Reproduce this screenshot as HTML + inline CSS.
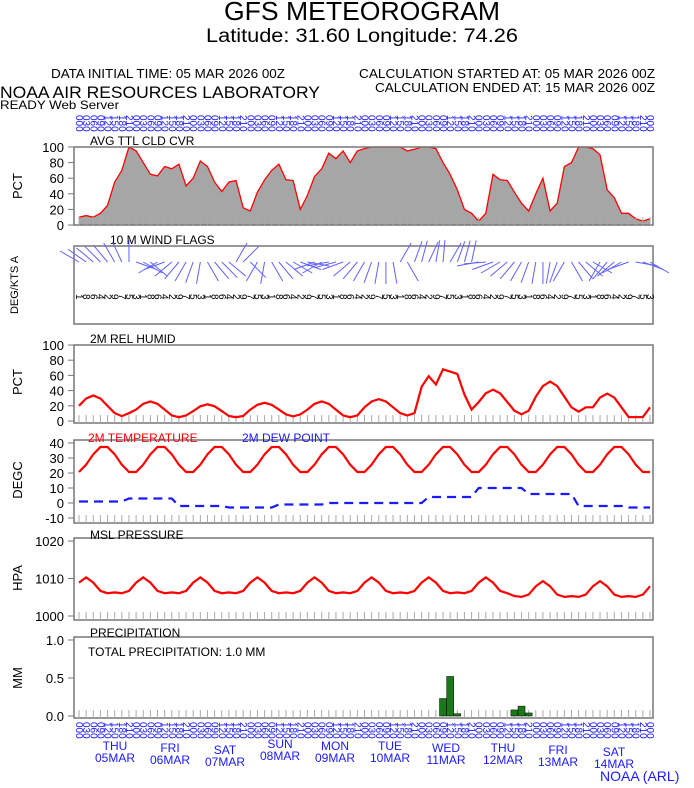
<!DOCTYPE html>
<html><head><meta charset="utf-8"><style>body{margin:0;background:#fff}svg{display:block}</style></head>
<body>
<svg id="s" width="694" height="788" xmlns="http://www.w3.org/2000/svg" font-family="Liberation Sans, sans-serif">
<text x="362" y="20" font-size="26" text-anchor="middle" textLength="276" lengthAdjust="spacingAndGlyphs">GFS METEOROGRAM</text>
<text x="362" y="42" font-size="19" text-anchor="middle" textLength="312" lengthAdjust="spacingAndGlyphs">Latitude: 31.60 Longitude:  74.26</text>
<text x="51" y="78" font-size="13" textLength="234" lengthAdjust="spacingAndGlyphs">DATA INITIAL TIME: 05 MAR 2026 00Z</text>
<text x="359" y="78" font-size="13" textLength="296" lengthAdjust="spacingAndGlyphs">CALCULATION STARTED AT: 05 MAR 2026 00Z</text>
<text x="375" y="92" font-size="13" textLength="280" lengthAdjust="spacingAndGlyphs">CALCULATION ENDED AT: 15 MAR 2026 00Z</text>
<text x="0" y="98" font-size="17" textLength="320" lengthAdjust="spacingAndGlyphs">NOAA AIR RESOURCES LABORATORY</text>
<text x="0" y="109" font-size="12" textLength="119" lengthAdjust="spacingAndGlyphs">READY Web Server</text>
<text x="600" y="781" font-size="14" fill="#1a1aff">NOAA (ARL)</text>
<g id="g"></g>
</svg>
<script>
const NS="http://www.w3.org/2000/svg",g=document.getElementById('g');
function el(t,a,txt){const e=document.createElementNS(NS,t);for(const k in a)e.setAttribute(k,a[k]);if(txt!==undefined)e.textContent=txt;g.appendChild(e);return e;}
const L=74,R=653,N=81,X0=79,X1=650;const xs=i=>X0+(X1-X0)*i/(N-1);
function interp(a){const o=[];for(let i=0;i<N;i++){const t=i*(a.length-1)/(N-1),k=Math.floor(t),f=t-k;o.push(a[k]*(1-f)+(a[Math.min(k+1,a.length-1)])*f);}return o;}
function box(top,bot){el('rect',{x:L,y:top,width:R-L,height:bot-top,fill:'none',stroke:'#777','stroke-width':1.5});}
function ticks(bot){for(let i=0;i<N;i++)el('line',{x1:xs(i),x2:xs(i),y1:bot-8,y2:bot,stroke:'#aaa','stroke-width':1});}
function ylab(t,y,x,fs){el('text',{x:x||22,y:y,'font-size':fs||13,'text-anchor':'middle',transform:`rotate(-90 ${x||22} ${y})`},t);}
function ytick(v,y){el('text',{x:64,y:y+5,'font-size':13,'text-anchor':'end'},v);el('line',{x1:L-6,x2:L,y1:y,y2:y,stroke:'#777'});}
const hrs=['00','03','06','09','12','15','18','21'];
function hourRow(y){for(let i=0;i<N;i++){const x=xs(i)-3;el('text',{x:x,y:y,'font-size':10,fill:'#1a1aff',transform:`rotate(90 ${x} ${y})`,'text-anchor':'start'},hrs[i%8]+'0');}}
hourRow(115);hourRow(722);
let cl=[10,12,10,15,25,55,70,100,95,80,65,63,75,72,78,50,60,82,75,55,43,55,57,22,18,42,58,70,78,58,57,20,38,62,72,92,85,95,80,95,98,100,100,100,100,100,95,97,100,100,98,80,65,45,20,15,5,15,65,58,57,42,28,18,40,60,18,28,75,80,100,100,98,90,45,35,15,15,8,5,8];
cl=interp(cl);
let t1=147,b1=225;const yc=v=>b1-(b1-t1)*v/100;
let d='M'+xs(0)+' '+b1;cl.forEach((v,i)=>d+=' L'+xs(i).toFixed(1)+' '+yc(v).toFixed(1));
el('path',{d:d+' L'+xs(N-1)+' '+b1+'Z',fill:'#a6a6a6'});
el('path',{d:'M'+cl.map((v,i)=>xs(i).toFixed(1)+' '+yc(v).toFixed(1)).join(' L'),fill:'none',stroke:'#f00','stroke-width':1.3});
box(t1,b1);ticks(b1);[0,20,40,60,80,100].forEach(v=>ytick(v,yc(v)));ylab('PCT',186);
el('text',{x:90,y:145,'font-size':12},'AVG TTL CLD CVR');
box(246,324);el('text',{x:110,y:244,'font-size':12},'10 M  WIND FLAGS');ylab('DEG/KTS  A',285,18,11);
const ang=[150,145,140,135,130,120,115,90,-20,-30,-40,-150,-160,-140,-130,-120,-110,-100,-60,-50,-45,-40,60,45,-45,-120,-100,-60,-50,-40,-30,-20,-10,-160,-150,-170,-165,-160,-140,-130,-120,-110,-100,-90,-80,60,-60,70,75,65,80,85,60,70,75,78,-170,-175,-160,-150,-140,-130,-120,-110,-100,-90,-100,-110,-120,-60,-50,-40,-30,-120,-130,-140,-150,-160,-10,-20,-30];
for(let i=0;i<N;i++){const x=xs(i),a=ang[i%ang.length]*Math.PI/180;
el('line',{x1:x,y1:262,x2:x+Math.cos(a)*22,y2:262-Math.sin(a)*22,stroke:'#6060ff','stroke-width':1});
el('text',{x:x-3,y:294,'font-size':10,transform:`rotate(90 ${x-3} 294)`},(i*7%9+1));}
let t3=345,b3=421;const yr=v=>b3-(b3-t3)*v/100;box(t3,b3+2);ticks(b3+2);[0,20,40,60,80,100].forEach(v=>ytick(v,yr(v)));ylab('PCT',382);
el('text',{x:90,y:343,'font-size':12},'2M REL HUMID');
let rh=[];for(let i=0;i<N;i++){let amp=[15,12,10,10,12,12,22,18,22,20][Math.floor(i/8)]||12;let base=[20,15,13,15,15,18,45,25,32,18][Math.floor(i/8)]||18;rh.push(base+amp*Math.cos((i-2)*Math.PI/4)*0.9);}
rh[51]=68;rh[52]=65;rh[53]=62;rh[50]=48;rh[54]=35;rh[55]=15;
el('path',{d:'M'+rh.map((v,i)=>xs(i).toFixed(1)+' '+yr(Math.max(5,v)).toFixed(1)).join(' L'),fill:'none',stroke:'#f00','stroke-width':2.2});
let t4=443,b4=518;const yt=v=>b4-(b4-t4)*(v+10)/50;box(440,523);ticks(523);[40,30,20,10,0,-10].forEach(v=>ytick(v,yt(v)));ylab('DEGC',480);
el('text',{x:88,y:442,'font-size':12,fill:'#f00'},'2M TEMPERATURE');el('text',{x:242,y:442,'font-size':12,fill:'#1a1aff'},'2M   DEW POINT');
let tp=[],dp=[];for(let i=0;i<N;i++){let c=Math.cos((i-3.5)*Math.PI/4);tp.push(29+9*c);dp.push([1,3,-2,-3,-1,0,0,4,10,6,-2,-3][Math.floor(i/7)]||0);}
el('path',{d:'M'+tp.map((v,i)=>xs(i).toFixed(1)+' '+yt(v).toFixed(1)).join(' L'),fill:'none',stroke:'#f00','stroke-width':2.2});
el('path',{d:'M'+interp(dp).map((v,i)=>xs(i).toFixed(1)+' '+yt(v).toFixed(1)).join(' L'),fill:'none',stroke:'#1a1aff','stroke-width':2.2,'stroke-dasharray':'9 6'});
let t5=541,b5=616;const yp=v=>b5-(b5-t5)*(v-1000)/20;box(538,620);ticks(620);[1020,1010,1000].forEach(v=>ytick(v,yp(v)));ylab('HPA',578);
el('text',{x:90,y:539,'font-size':12},'MSL PRESSURE');
let pr=[];for(let i=0;i<N;i++)pr.push(1007.5+2*Math.cos((i-1)*Math.PI/4)+0.8*Math.cos((i-1)*Math.PI/2)-(i>60?1:0));
el('path',{d:'M'+pr.map((v,i)=>xs(i).toFixed(1)+' '+yp(v).toFixed(1)).join(' L'),fill:'none',stroke:'#f00','stroke-width':2.2});
let t6=640,b6=716;const ym=v=>b6-(b6-t6)*v;box(637,718);ticks(718);[[1.0,'1.0'],[0.5,'0.5'],[0,'0.0']].forEach(a=>ytick(a[1],ym(a[0])));ylab('MM',678);
el('text',{x:90,y:637,'font-size':12},'PRECIPITATION');el('text',{x:88,y:656,'font-size':12},'TOTAL PRECIPITATION:   1.0 MM');
[[51,0.23],[52,0.52],[53,0.03],[61,0.08],[62,0.13],[63,0.04]].forEach(b=>el('rect',{x:xs(b[0])-3.5,y:ym(b[1]),width:7,height:b6-ym(b[1]),fill:'#1a7a1a',stroke:'#000','stroke-width':0.5}));
const days=[['THU','05MAR',115,750],['FRI','06MAR',170,752],['SAT','07MAR',225,754],['SUN','08MAR',280,748],['MON','09MAR',335,750],['TUE','10MAR',390,750],['WED','11MAR',446,752],['THU','12MAR',503,752],['FRI','13MAR',558,754],['SAT','14MAR',614,756]];
days.forEach(d=>{el('text',{x:d[2],y:d[3],'font-size':12,fill:'#1a1aff','text-anchor':'middle'},d[0]);el('text',{x:d[2],y:d[3]+12,'font-size':12,fill:'#1a1aff','text-anchor':'middle'},d[1]);});
</script>
</body></html>
